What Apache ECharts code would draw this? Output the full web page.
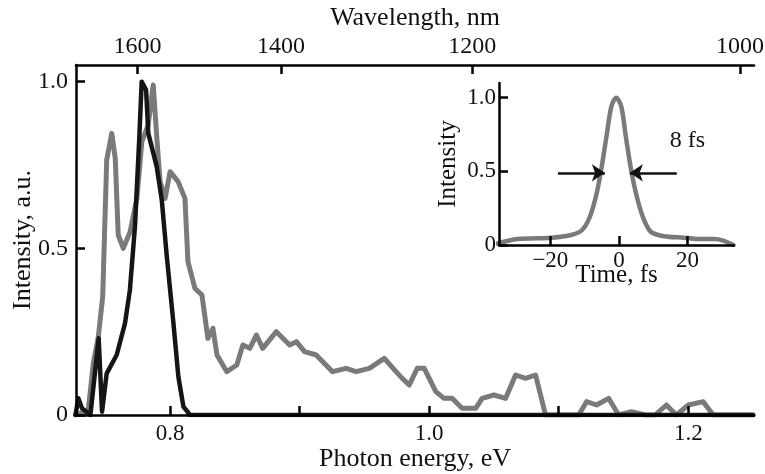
<!DOCTYPE html>
<html>
<head>
<meta charset="utf-8">
<script src="https://cdn.jsdelivr.net/npm/echarts@6/dist/echarts.min.js"></script>
<style>
html,body{margin:0;padding:0;background:#fff;}
#chart{width:765px;height:474px;}
</style>
</head>
<body>
<div id="chart"></div>
<script>
// ---- Main spectrum (photon energy, eV) ----
var grayEnergy = [0.727, 0.7305, 0.7369, 0.7408, 0.7446, 0.748, 0.7511, 0.755, 0.7577, 0.760, 0.7639, 0.7692, 0.7744, 0.7782, 0.7831, 0.787, 0.7898, 0.7923, 0.7962, 0.800, 0.8062, 0.8115, 0.8138, 0.8192, 0.8246, 0.8292, 0.8331, 0.8362, 0.8438, 0.8515, 0.8562, 0.8615, 0.8667, 0.8715, 0.882, 0.8923, 0.8975, 0.9038, 0.9128, 0.9254, 0.9359, 0.9436, 0.9538, 0.9654, 0.9744, 0.9792, 0.9846, 0.9908, 0.9962, 1.0051, 1.0115, 1.0177, 1.0254, 1.0359, 1.0408, 1.05, 1.059, 1.0667, 1.0744, 1.0821, 1.0898, 1.0975, 1.1154, 1.1215, 1.1292, 1.1385, 1.1462, 1.1562, 1.1667, 1.1744, 1.1831, 1.1908, 1.2, 1.2115, 1.2192, 1.25];
var grayIntensity = [0, 0.005, 0.015, 0.156, 0.234, 0.354, 0.765, 0.845, 0.77, 0.54, 0.5, 0.55, 0.65, 0.82, 0.87, 0.99, 0.83, 0.7, 0.65, 0.73, 0.70, 0.65, 0.46, 0.38, 0.36, 0.23, 0.26, 0.18, 0.13, 0.15, 0.21, 0.20, 0.24, 0.20, 0.25, 0.21, 0.22, 0.19, 0.18, 0.13, 0.14, 0.13, 0.14, 0.17, 0.13, 0.11, 0.09, 0.14, 0.14, 0.07, 0.05, 0.05, 0.02, 0.02, 0.05, 0.06, 0.05, 0.12, 0.11, 0.12, 0, 0, 0, 0.04, 0.03, 0.05, 0, 0.01, 0, 0, 0.03, 0, 0.03, 0.04, 0, 0];

var blackEnergy = [0.727, 0.7292, 0.732, 0.7385, 0.7449, 0.7475, 0.7511, 0.7588, 0.7652, 0.769, 0.7729, 0.7763, 0.7781, 0.7815, 0.7832, 0.7897, 0.7936, 0.7975, 0.8026, 0.8064, 0.8103, 0.8154, 0.83, 1.25];
var blackIntensity = [0, 0.05, 0.02, 0, 0.23, 0.01, 0.125, 0.18, 0.275, 0.375, 0.565, 0.835, 1.0, 0.975, 0.845, 0.745, 0.645, 0.475, 0.275, 0.115, 0.025, 0, 0, 0];

// ---- Inset: pulse intensity vs time (fs) ----
var pulseTime = [-35.4, -29.7, -19.5, -13.7, -10.8, -8.5, -6.5, -5.1, -3.6, -2.2, -0.8, 0.7, 2.0, 3.5, 5.0, 7.0, 9.3, 13.1, 19.0, 23.8, 27.7, 30.5, 33.4];
var pulseIntensity = [0.01, 0.04, 0.05, 0.07, 0.1, 0.19, 0.35, 0.52, 0.74, 0.94, 1.0, 0.94, 0.74, 0.52, 0.35, 0.19, 0.09, 0.06, 0.05, 0.04, 0.04, 0.03, 0.0];

// ---- Tick labels ----
var energyTicks = [0.8, 0.9, 1.0, 1.1, 1.2];
var energyLabels = [0.8, 1.0, 1.2];
var wavelengthLabels = [1600, 1400, 1200, 1000];
var intensityTicks = [0, 0.5, 1.0];
var timeTicks = [-20, 0, 20];

// ---- Annotations (data coords of inset) ----
var fwhmText = '8 fs';
var fwhmTextPos = [20.0, 0.71];
var arrowLeft = [-17.8, -4.1];
var arrowRight = [16.9, 3.2];
var arrowLevel = 0.49;

var HC = 1239.84;
var FONT = 'Liberation Serif';
var TXT = '#111';

function zip(a, b) { return a.map(function (v, i) { return [v, b[i]]; }); }
function fmtI(v) { return v === 0 ? '0' : v.toFixed(1); }

var axisLineStyle = { color: '#000', width: 2.5 };
var tickStyle = { color: '#000', width: 2.5 };
function lbl(size, margin, extra) {
  var o = { margin: margin, fontFamily: FONT, fontSize: size, color: TXT, fontWeight: 'normal' };
  for (var k in extra) o[k] = extra[k];
  return o;
}

var chart = echarts.init(document.getElementById('chart'), null, { renderer: 'canvas' });
chart.setOption({
  animation: false,
  backgroundColor: '#fff',
  textStyle: { fontFamily: FONT, color: TXT },
  grid: [
    { left: 76, right: 11, top: 65, bottom: 59, containLabel: false, outerBoundsMode: 'none' },
    { left: 499, right: 31, top: 83, bottom: 229, containLabel: false, outerBoundsMode: 'none' }
  ],
  xAxis: [
    {
      type: 'value', gridIndex: 0, position: 'bottom', min: 0.7274, max: 1.2507, z: 5,
      name: 'Photon energy, eV', nameLocation: 'middle', nameGap: 31, nameMoveOverlap: false,
      nameTextStyle: { fontFamily: FONT, fontSize: 26, color: TXT },
      axisLine: { onZero: false, lineStyle: axisLineStyle },
      axisTick: { inside: true, length: 9, lineStyle: tickStyle, customValues: energyTicks },
      axisLabel: lbl(23, 7, { customValues: energyLabels, formatter: function (v) { return v.toFixed(1); } }),
      splitLine: { show: false }
    },
    {
      type: 'value', gridIndex: 0, position: 'top', min: 0.7274, max: 1.2507, z: 5,
      name: 'Wavelength, nm', nameLocation: 'middle', nameGap: 34, nameMoveOverlap: false,
      nameTextStyle: { fontFamily: FONT, fontSize: 26, color: TXT },
      axisLine: { onZero: false, lineStyle: axisLineStyle },
      axisTick: { inside: true, length: 9, lineStyle: tickStyle,
        customValues: wavelengthLabels.map(function (w) { return HC / w; }) },
      axisLabel: lbl(24, 6, {
        customValues: wavelengthLabels.map(function (w) { return HC / w; }),
        formatter: function (v) { return String(Math.round(HC / v)); } }),
      splitLine: { show: false }
    },
    {
      type: 'value', gridIndex: 1, min: -35, max: 33.6, z: 5,
      name: 'Time, fs', nameLocation: 'middle', nameGap: 18, nameMoveOverlap: false,
      nameTextStyle: { fontFamily: FONT, fontSize: 25, color: TXT },
      axisLine: { onZero: false, lineStyle: axisLineStyle },
      axisTick: { inside: true, length: 9, lineStyle: tickStyle, customValues: timeTicks },
      axisLabel: lbl(23, 4, { customValues: timeTicks,
        formatter: function (v) { return v < 0 ? '\u2212' + Math.abs(v) : String(v); } }),
      splitLine: { show: false }
    }
  ],
  yAxis: [
    {
      type: 'value', gridIndex: 0, min: 0, max: 1.05, z: 5,
      name: 'Intensity, a.u.', nameLocation: 'middle', nameGap: 40, nameMoveOverlap: false,
      nameTextStyle: { fontFamily: FONT, fontSize: 26, color: TXT },
      axisLine: { onZero: false, lineStyle: axisLineStyle },
      axisTick: { inside: true, length: 9, lineStyle: tickStyle, customValues: intensityTicks },
      axisLabel: lbl(24, 8, { customValues: intensityTicks, formatter: fmtI }),
      splitLine: { show: false }
    },
    {
      type: 'value', gridIndex: 1, min: 0, max: 1.1, z: 5,
      name: 'Intensity', nameLocation: 'middle', nameGap: 38, nameMoveOverlap: false,
      nameTextStyle: { fontFamily: FONT, fontSize: 25, color: TXT },
      axisLine: { onZero: false, lineStyle: axisLineStyle },
      axisTick: { inside: true, length: 9, lineStyle: tickStyle, customValues: intensityTicks },
      axisLabel: lbl(23, 3, { customValues: intensityTicks, formatter: fmtI }),
      splitLine: { show: false }
    }
  ],
  series: [
    {
      type: 'line', xAxisIndex: 0, yAxisIndex: 0, data: zip(grayEnergy, grayIntensity),
      showSymbol: false, symbol: 'none', z: 2,
      lineStyle: { color: '#7a7a7a', width: 5, join: 'round', cap: 'round' }
    },
    {
      type: 'line', xAxisIndex: 0, yAxisIndex: 0, data: zip(blackEnergy, blackIntensity),
      showSymbol: false, symbol: 'none', z: 3,
      lineStyle: { color: '#151515', width: 4.5, join: 'round', cap: 'round' }
    },
    {
      type: 'line', xAxisIndex: 2, yAxisIndex: 1, data: zip(pulseTime, pulseIntensity),
      showSymbol: false, symbol: 'none', smooth: 0.3, z: 2,
      lineStyle: { color: '#7a7a7a', width: 4.5, cap: 'round' },
      markLine: {
        silent: true, animation: false,
        symbol: ['none', 'arrow'], symbolSize: 13,
        lineStyle: { color: '#111', width: 2.5, type: 'solid' },
        label: { show: false },
        data: [
          [{ coord: [arrowLeft[0], arrowLevel] }, { coord: [arrowLeft[1], arrowLevel] }],
          [{ coord: [arrowRight[0], arrowLevel] }, { coord: [arrowRight[1], arrowLevel] }]
        ]
      },
      markPoint: {
        silent: true, animation: false,
        symbol: 'circle', symbolSize: 0,
        label: { show: true, position: 'inside', formatter: fwhmText, fontFamily: FONT, fontSize: 24, color: TXT },
        data: [{ coord: fwhmTextPos }]
      }
    }
  ]
});
</script>
</body>
</html>
